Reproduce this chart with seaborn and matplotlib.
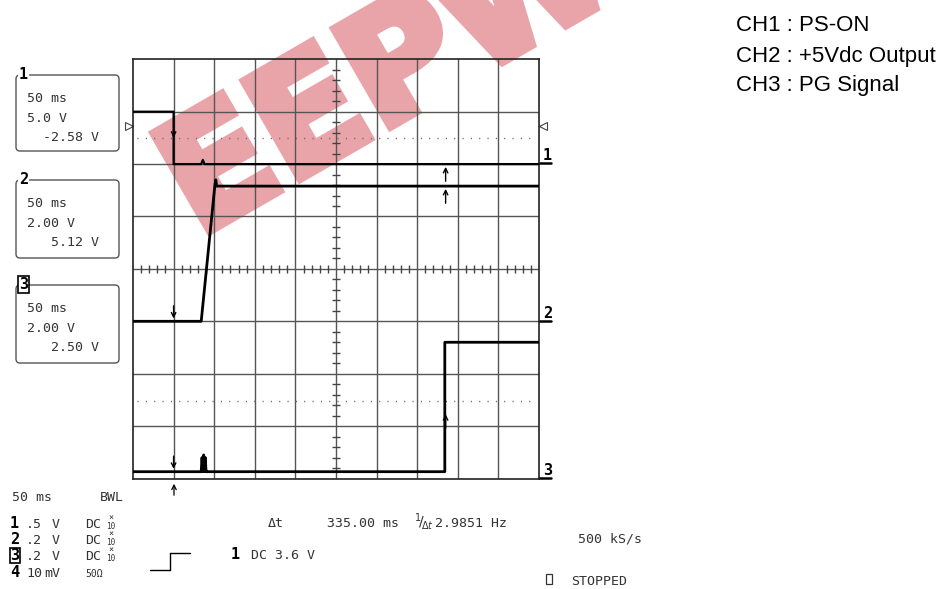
import numpy as np
import pandas as pd
import matplotlib.pyplot as plt
import matplotlib.patheffects as pe
import seaborn as sns
from matplotlib.patches import FancyBboxPatch

ch1_t = [-50, 0, 0, 34, 36, 38, 450]
ch1_v = [3.0, 3.0, 2.0, 2.0, 2.08, 2.0, 2.0]

ch2_t = [-50, 34, 51, 52, 53, 450]
ch2_v = [-1.0, -1.0, 1.62, 1.70, 1.58, 1.58]

ch3_t = [-50, 34, 35, 36, 37, 38, 39, 40, 41, 334, 334, 450]
ch3_v = [-3.87, -3.87, -3.6, -3.87, -3.55, -3.87, -3.6, -3.87, -3.87, -3.87, -1.40, -1.40]

trig_level = 2.49
ch3_level = -2.53
cursor_t = [0, 335]

legenda = ["CH1 : PS-ON", "CH2 : +5Vdc Output", "CH3 : PG Signal"]
box_num = ["1", "2", "3"]
box_righe = [["50 ms", "5.0 V", "-2.58 V"],
             ["50 ms", "2.00 V", "5.12 V"],
             ["50 ms", "2.00 V", "2.50 V"]]

sns.set_theme(style="white")
plt.rcParams['font.family'] = ['DejaVu Sans Mono', 'DejaVu Sans']
MONO = 'DejaVu Sans Mono'
TXT = '#333333'
ROSA = '#e9a4a9'

fig = plt.figure(figsize=(9.43, 5.89), dpi=100)

# asse di sovrapposizione in pixel (per testi e riquadri)
ov = fig.add_axes([0, 0, 1, 1])
ov.set_xlim(0, 943)
ov.set_ylim(589, 0)
ov.axis('off')

# asse dello schermo
ax = fig.add_axes([133 / 943, 1 - 478.5 / 589, 406 / 943, 419.2 / 589])
ax.patch.set_alpha(0)
ax.set_xlim(-50, 450)
ax.set_ylim(-4, 4)
ax.set_xticks([])
ax.set_yticks([])
for s in ax.spines.values():
    s.set_color('#222222')
    s.set_linewidth(1.2)

# filigrana (sotto reticolo e tracce)
ax.text(198 / 943, 1 - 237 / 589, "EEPW", transform=fig.transFigure, rotation=30,
        rotation_mode='anchor', ha='left', va='baseline', fontsize=110, fontweight='bold',
        family=['DejaVu Sans'], color=ROSA, zorder=0.5, clip_on=False,
        path_effects=[pe.withStroke(linewidth=7, foreground=ROSA, joinstyle='miter')])

# reticolo
for xv in np.arange(0, 450, 50):
    ax.axvline(xv, color='#555555', lw=1, zorder=1)
for yv in range(-3, 4):
    ax.axhline(yv, color='#555555', lw=1, zorder=1)
tx = [x for x in np.arange(-40, 450, 10) if x % 50 != 0]
ax.vlines(tx, -0.08, 0.08, color='#444444', lw=1, zorder=1)
ty = [y for y in np.arange(-3.8, 4, 0.2) if abs(y - round(y)) > 0.05]
ax.hlines(ty, 195, 205, color='#444444', lw=1, zorder=1)

# livelli tratteggiati
ax.hlines([trig_level, ch3_level], -45, 447, color='#666666', lw=1,
          linestyles=[(0, (0.8, 5.2))], zorder=1)

# tracce
df1 = pd.DataFrame({'t': ch1_t, 'v': ch1_v})
df2 = pd.DataFrame({'t': ch2_t, 'v': ch2_v})
df3 = pd.DataFrame({'t': ch3_t, 'v': ch3_v})
sns.lineplot(data=df1, x='t', y='v', estimator=None, sort=False, color='black', lw=1.6, ax=ax, zorder=3)
sns.lineplot(data=df2, x='t', y='v', estimator=None, sort=False, color='black', lw=2.0, ax=ax, zorder=3)
sns.lineplot(data=df3, x='t', y='v', estimator=None, sort=False, color='black', lw=2.0, ax=ax, zorder=3)
ax.set_xlabel('')
ax.set_ylabel('')

# frecce dei cursori
arr = dict(arrowstyle='->', lw=1, color='black', mutation_scale=8)
ax.annotate('', xy=(cursor_t[0], 2.45), xytext=(cursor_t[0], 2.95), arrowprops=arr, zorder=4)
ax.annotate('', xy=(cursor_t[0], -1.0), xytext=(cursor_t[0], -0.65), arrowprops=arr, zorder=4)
ax.annotate('', xy=(cursor_t[0], -3.87), xytext=(cursor_t[0], -3.52), arrowprops=arr, zorder=4)
ax.annotate('', xy=(cursor_t[1], 2.0), xytext=(cursor_t[1], 1.62), arrowprops=arr, zorder=4)
ax.annotate('', xy=(cursor_t[1], 1.58), xytext=(cursor_t[1], 1.2), arrowprops=arr, zorder=4)
ax.annotate('', xy=(cursor_t[1], -2.72), xytext=(cursor_t[1], -3.1), arrowprops=arr, zorder=4)

# triangoli del livello di trigger
ax.plot([-55], [2.72], marker='>', ms=6, mfc='white', mec='#444444', mew=0.8, clip_on=False)
ax.plot([455], [2.72], marker='<', ms=6, mfc='white', mec='#444444', mew=0.8, clip_on=False)

# marcatori dei canali a destra
for lab, yb, yl in zip(box_num, [160, 318, 475], [163, 320.5, 478]):
    ov.text(543, yb, lab, fontsize=11, fontweight='bold', family=MONO, color='black', va='baseline')
    ov.plot([539, 551], [yl, yl], color='black', lw=1.8)

ov.annotate('', xy=(174, 481), xytext=(174, 498),
            arrowprops=dict(arrowstyle='->', lw=0.9, color='black', mutation_scale=8))

# riquadri a sinistra
for i, (top, bottom) in enumerate([(75, 151), (180, 258), (285, 363)]):
    ov.add_patch(FancyBboxPatch((16, top), 103, bottom - top,
                                boxstyle='round,pad=0,rounding_size=4',
                                fc='none', ec='#555555', lw=1))
    ov.text(19, top + 4, box_num[i], fontsize=11, fontweight='bold', family=MONO,
            color='black', va='baseline',
            bbox=dict(fc='white', ec='black' if i == 2 else 'none', pad=0.5, lw=1.2))
    r = box_righe[i]
    ov.text(27, top + 27, r[0], fontsize=9.5, family=MONO, color=TXT, va='baseline')
    ov.text(27, top + 47, r[1], fontsize=9.5, family=MONO, color=TXT, va='baseline')
    ov.text(99, top + 66, r[2], fontsize=9.5, family=MONO, color=TXT, va='baseline', ha='right')

# testi in basso
ov.text(12, 501, "50 ms", fontsize=9.5, family=MONO, color=TXT, va='baseline')
ov.text(100, 501, "BWL", fontsize=9.5, family=MONO, color=TXT, va='baseline')
righe = [("1", ".5", "V", "DC", True), ("2", ".2", "V", "DC", True),
         ("3", ".2", "V", "DC", True), ("4", "10", "mV", "50Ω", False)]
for (n, val, unit, cpl, x10), yb in zip(righe, [528, 544, 560, 577]):
    ov.text(10, yb, n, fontsize=11, fontweight='bold', family=MONO, color='black', va='baseline',
            bbox=dict(fc='white', ec='black', pad=0.3, lw=1.2) if n == "3" else None)
    ov.text(26, yb, val, fontsize=9.5, family=MONO, color=TXT, va='baseline')
    ov.text(52 if unit == "V" else 44, yb, unit, fontsize=9.5, family=MONO, color=TXT, va='baseline')
    ov.text(85, yb, cpl, fontsize=9.5 if x10 else 7, family=MONO, color=TXT, va='baseline')
    if x10:
        ov.text(108, yb - 7, "×", fontsize=6, family=MONO, color=TXT, va='baseline')
        ov.text(106, yb + 1, "10", fontsize=5.5, family=MONO, color=TXT, va='baseline')

ov.text(268, 527, "Δt", fontsize=9.5, family=MONO, color=TXT, va='baseline')
ov.text(327, 527, "335.00 ms", fontsize=9.5, family=MONO, color=TXT, va='baseline')
ov.text(414, 522, r"$^{1}\!/\!_{\Delta t}$", fontsize=10, color=TXT, va='center')
ov.text(435, 527, "2.9851 Hz", fontsize=9.5, family=MONO, color=TXT, va='baseline')
ov.text(578, 542, "500 kS/s", fontsize=9.5, family=MONO, color=TXT, va='baseline')
ov.plot([150, 170, 170, 190], [570, 570, 553, 553], color='black', lw=1)
ov.text(231, 559, "1", fontsize=11, fontweight='bold', family=MONO, color='black', va='baseline')
ov.text(251, 559, "DC 3.6 V", fontsize=9.5, family=MONO, color=TXT, va='baseline')
ov.add_patch(plt.Rectangle((546, 574), 6, 10, fc='none', ec=TXT, lw=0.9))
ov.text(571, 585, "STOPPED", fontsize=9.5, family=MONO, color=TXT, va='baseline')

# legenda canali
for lab, yb in zip(legenda, [30.7, 61.7, 90.7]):
    fig.text(736 / 943, 1 - yb / 589, lab, fontsize=16, family=['Liberation Sans', 'DejaVu Sans'],
             color='black', va='baseline')

plt.savefig("out.png", dpi=100)
plt.close(fig)
